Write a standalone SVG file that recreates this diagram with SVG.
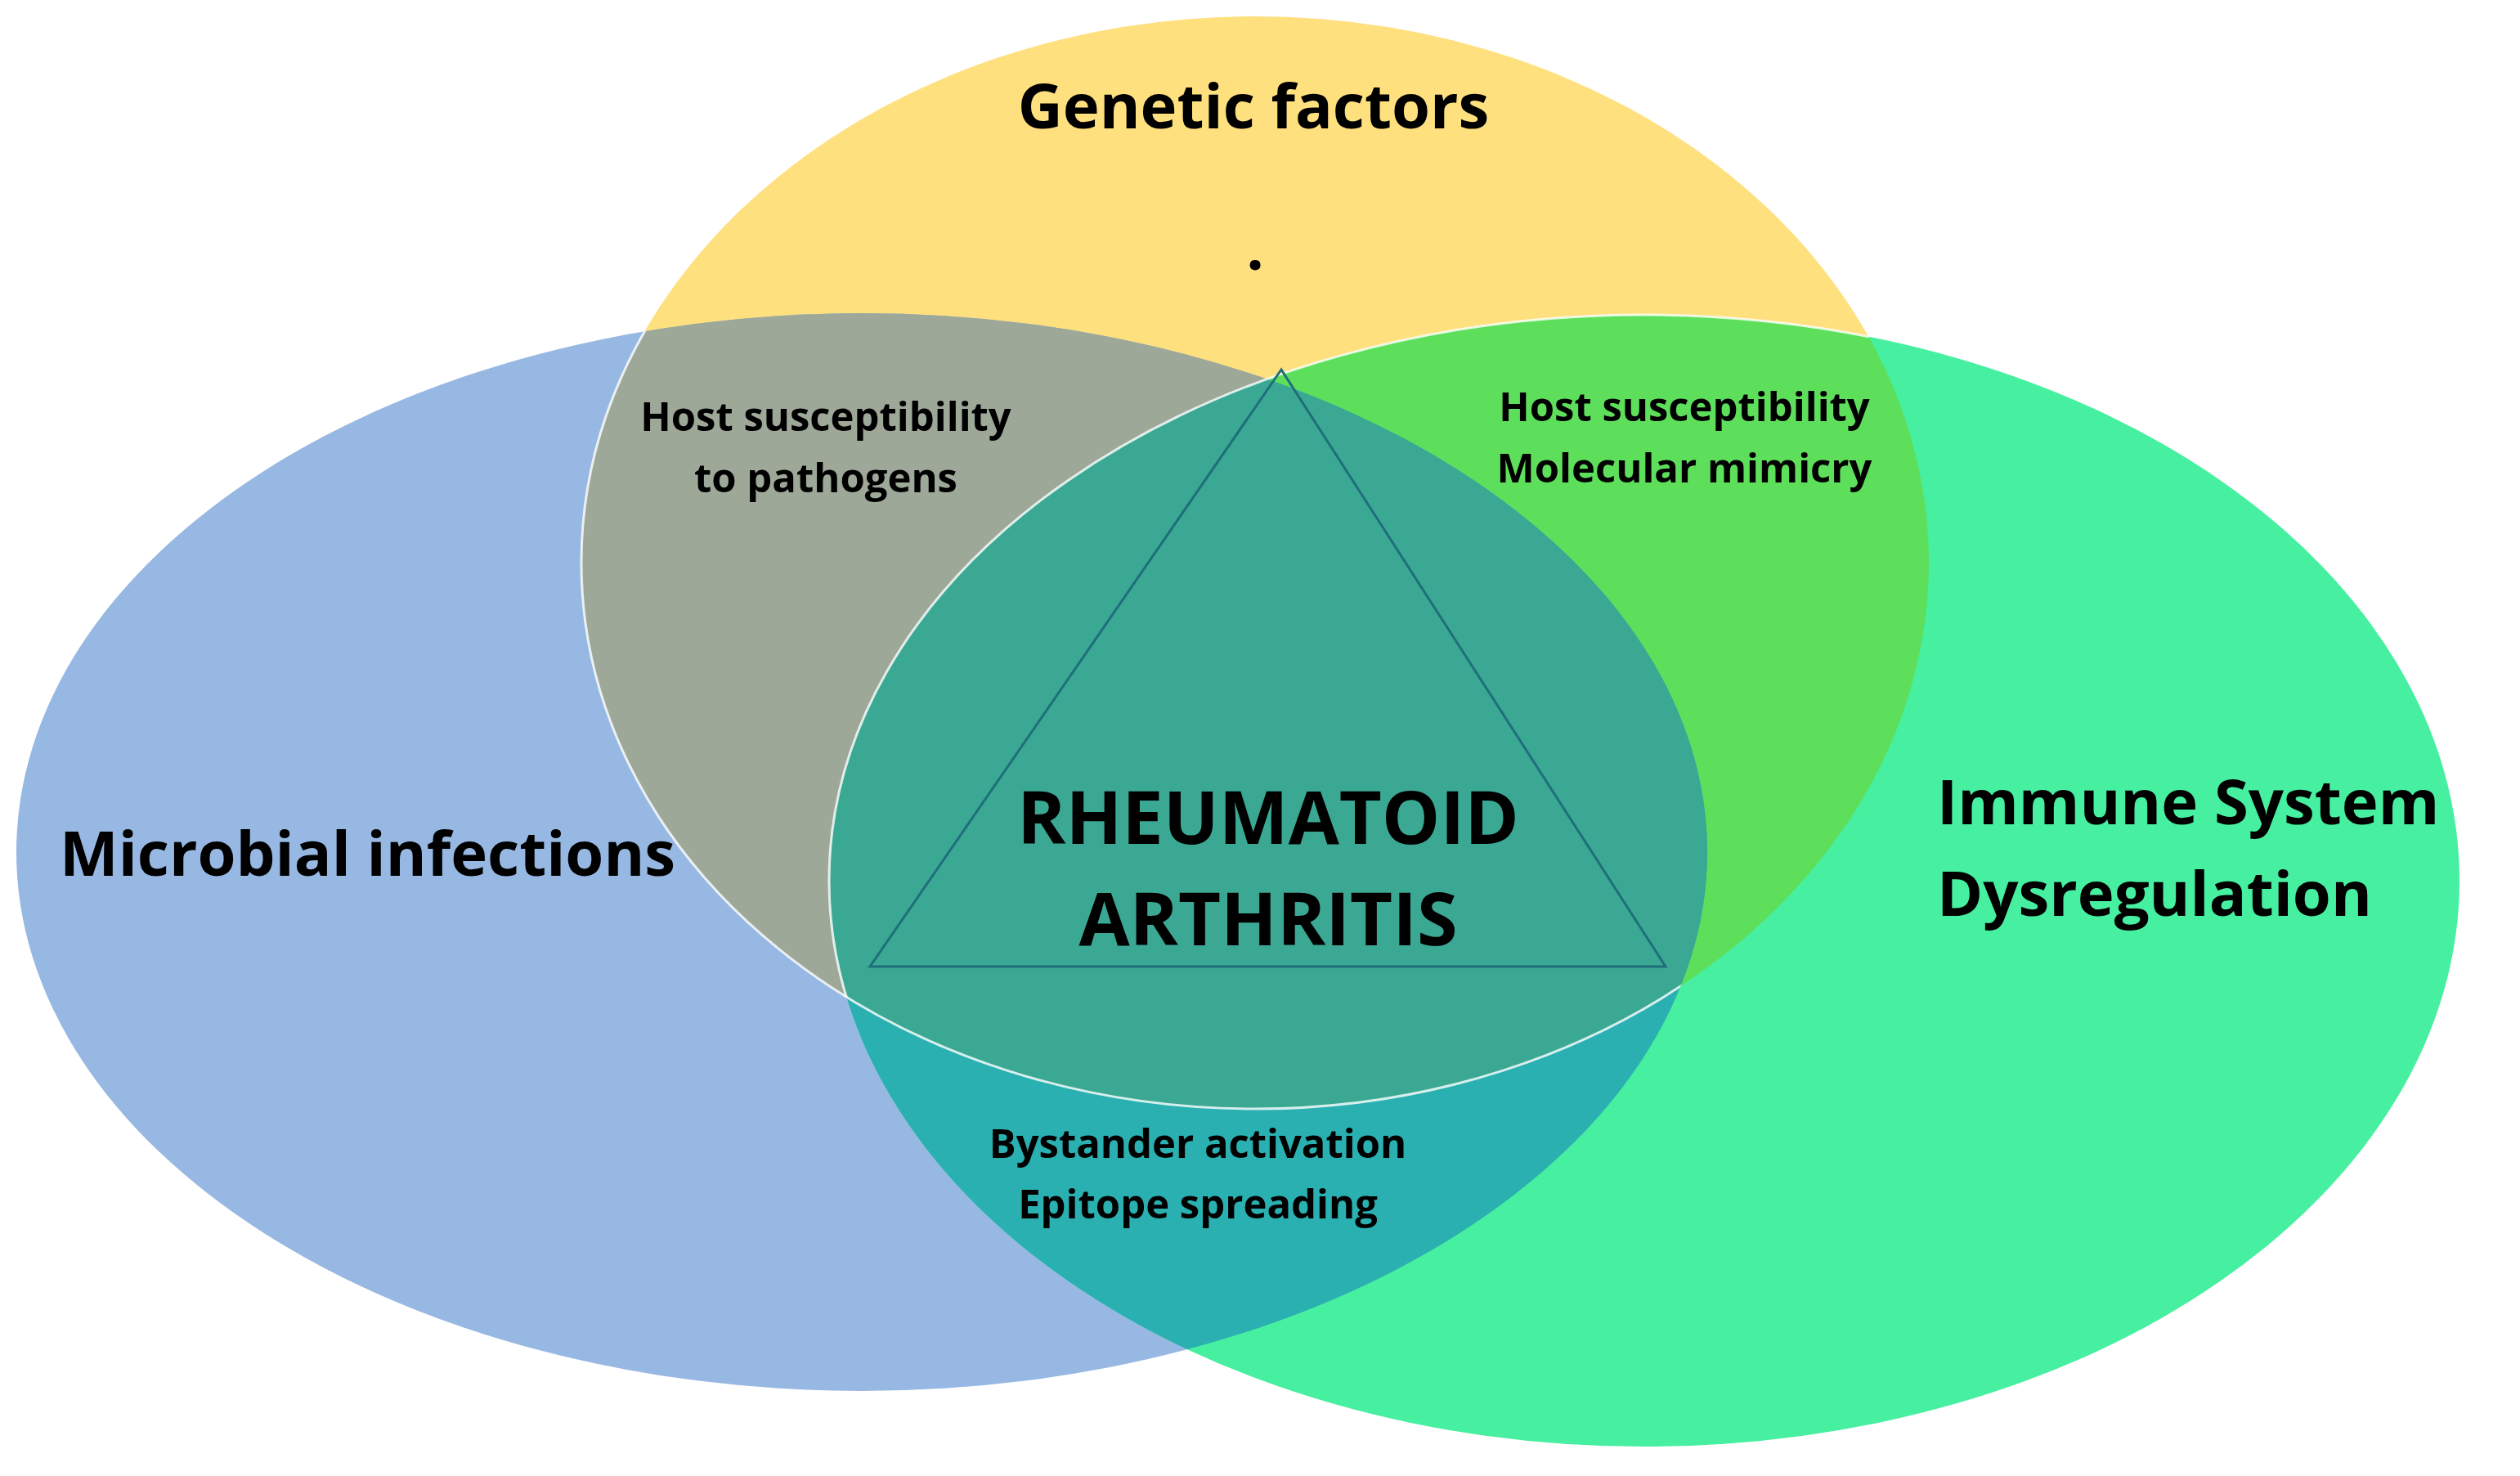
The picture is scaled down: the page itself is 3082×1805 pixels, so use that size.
<svg xmlns="http://www.w3.org/2000/svg" width="3082" height="1805" viewBox="0 0 3082 1805">
<style>
text{font-family:"Open Sans","Liberation Sans",sans-serif;font-weight:bold;fill:#000}
.big{font-size:76px}
.mid{font-size:49px}
.ra{font-size:90px}
</style>
<defs>
<ellipse id="eY" cx="1535" cy="688" rx="824" ry="668"/>
<ellipse id="eB" cx="1054" cy="1042" rx="1034" ry="659"/>
<ellipse id="eG" cx="2011" cy="1077" rx="997" ry="692"/>
<clipPath id="cY"><use href="#eY"/></clipPath>
<clipPath id="cB"><use href="#eB"/></clipPath>
<clipPath id="cG"><use href="#eG"/></clipPath>
</defs>
<rect width="3082" height="1805" fill="#fff"/>
<g id="yellow"><use href="#eY" fill="#FFE07F"/></g>
<g id="blue"><use href="#eB" fill="#97B8E2"/></g>
<g id="green"><use href="#eG" fill="#47EFA0"/></g>
<g id="overlaps">
<g clip-path="url(#cY)"><use href="#eB" fill="#9DA899"/></g>
<g clip-path="url(#cY)"><use href="#eG" fill="#5EDF5C"/></g>
<g clip-path="url(#cB)"><use href="#eG" fill="#2AB0B0"/></g>
<g clip-path="url(#cB)"><g clip-path="url(#cY)"><use href="#eG" fill="#3AA893"/></g></g>
<g clip-path="url(#cB)"><use href="#eY" fill="none" stroke="#fff" stroke-width="3" opacity="0.8"/></g>
<g clip-path="url(#cY)"><use href="#eG" fill="none" stroke="#fff" stroke-width="3" opacity="0.8"/></g>
</g>
<g id="connectors"><polygon points="1567,452 1064,1182 2037,1182" fill="none" stroke="#1F6F7A" stroke-width="3"/></g>
<g id="labels">
<text class="big" x="1533" y="157" text-anchor="middle">Genetic factors</text>
<text class="big" x="1535" y="330" text-anchor="middle">.</text>
<text class="mid" x="1010" y="527" text-anchor="middle">Host susceptibility</text>
<text class="mid" x="1010" y="602" text-anchor="middle">to pathogens</text>
<text class="mid" x="2060" y="515" text-anchor="middle">Host susceptibility</text>
<text class="mid" x="2060" y="590" text-anchor="middle">Molecular mimicry</text>
<text class="big" x="73" y="1071">Microbial infections</text>
<text class="big" x="2369" y="1008">Immune System</text>
<text class="big" x="2369" y="1120">Dysregulation</text>
<text class="ra" x="1551" y="1032" text-anchor="middle">RHEUMATOID</text>
<text class="ra" x="1551" y="1156" text-anchor="middle">ARTHRITIS</text>
<text class="mid" x="1465" y="1416" text-anchor="middle">Bystander activation</text>
<text class="mid" x="1465" y="1490" text-anchor="middle">Epitope spreading</text>
</g>
</svg>
